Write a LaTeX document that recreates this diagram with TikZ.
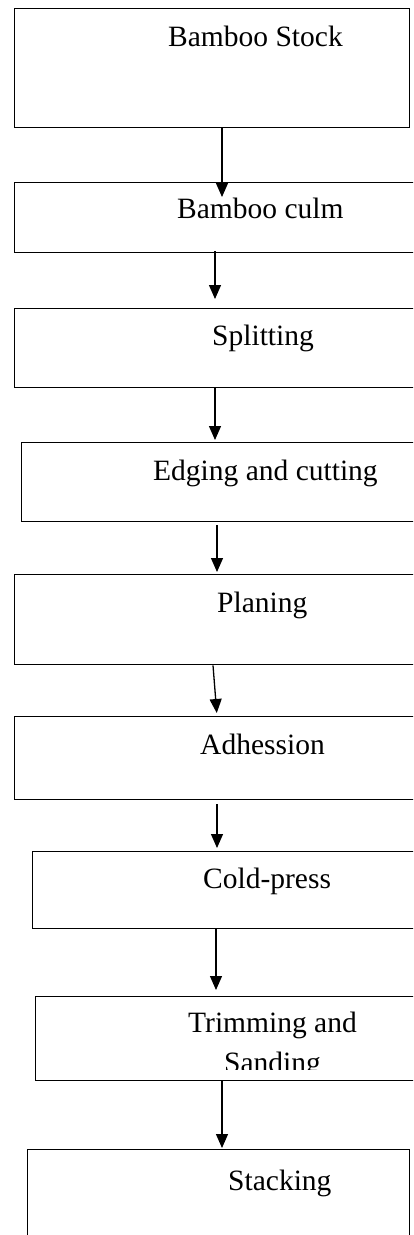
\documentclass[tikz,border=0pt]{standalone}
\usepackage{fontspec}
\setmainfont{Liberation Serif}
\usetikzlibrary{arrows.meta}
\begin{document}
\begin{tikzpicture}[x=1pt,y=-1pt,
  boxstyle/.style={draw=black, line width=1.3pt, rectangle, inner sep=0pt, anchor=north west},
  lbl/.style={anchor=base west, inner sep=0pt, font=\fontsize{29.5}{34}\selectfont},
  arr/.style={line width=1.3pt, -{Triangle[width=12pt,length=14pt]}}]
\useasboundingbox (0,0) rectangle (413,1235);
\clip (0,0) rectangle (413,1235);
% boxes
\node[boxstyle, minimum width=395pt, minimum height=119pt] (b1) at (14,8) {};
\node[boxstyle, minimum width=420pt, minimum height=70pt] (b2) at (14,182) {};
\node[boxstyle, minimum width=420pt, minimum height=79pt] (b3) at (14,308) {};
\node[boxstyle, minimum width=420pt, minimum height=79pt] (b4) at (21,442) {};
\node[boxstyle, minimum width=420pt, minimum height=90pt] (b5) at (14,574) {};
\node[boxstyle, minimum width=420pt, minimum height=83pt] (b6) at (14,716) {};
\node[boxstyle, minimum width=420pt, minimum height=77pt] (b7) at (32,851) {};
\node[boxstyle, minimum width=420pt, minimum height=84pt] (b8) at (35,996) {};
\node[boxstyle, minimum width=382pt, minimum height=100pt] (b9) at (27,1149) {};
% labels
\node[lbl] (t1) at (168,46) {Bamboo Stock};
\node[lbl] (t2) at (177,218) {Bamboo culm};
\node[lbl] (t3) at (212,345) {Splitting};
\node[lbl] (t4) at (153,480) {Edging and cutting};
\node[lbl] (t5) at (217,612) {Planing};
\node[lbl] (t6) at (200,754) {Adhession};
\node[lbl] (t7) at (203,888) {Cold-press};
\node[lbl] (t8) at (188,1032) {Trimming and};
\begin{scope}
\clip (0,1040) rectangle (413,1069);
\node[lbl] (t8b) at (224,1072) {Sanding};
\end{scope}
\node[lbl] (t9) at (228,1190) {Stacking};
% connectors
\draw[arr, shorten >=-15pt] (222,0 |- b1.south) -- (222,0 |- b2.north);
\draw[arr, shorten <=-2pt, shorten >=9pt] (215,0 |- b2.south) -- (215,0 |- b3.north);
\draw[arr, shorten >=2pt] (215,0 |- b3.south) -- (215,0 |- b4.north);
\draw[arr, shorten <=3pt, shorten >=2pt] (217,0 |- b4.south) -- (217,0 |- b5.north);
\draw[arr, shorten >=3pt] (213,0 |- b5.south) -- (217,0 |- b6.north);
\draw[arr, shorten <=4pt, shorten >=3pt] (217,0 |- b6.south) -- (217,0 |- b7.north);
\draw[arr, shorten >=6pt] (216,0 |- b7.south) -- (216,0 |- b8.north);
\draw[arr, shorten >=1pt] (222,0 |- b8.south) -- (222,0 |- b9.north);
\end{tikzpicture}
\end{document}
